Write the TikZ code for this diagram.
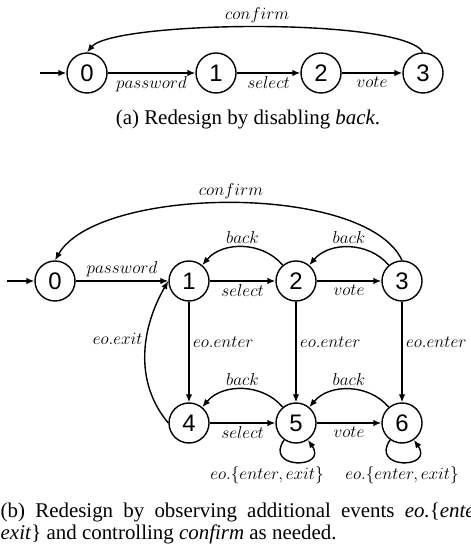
\documentclass[tikz,border=0pt]{standalone}
\usepackage{fontspec}
\setmainfont{Liberation Serif}
\newfontfamily\statefont{Liberation Sans}
\usetikzlibrary{arrows.meta}

\begin{document}
\begin{tikzpicture}[->, >={Latex[length=8bp,width=6.5bp]}, x=1bp, y=1bp, line width=1.4bp,
    main node/.style={circle, draw, minimum size=40bp, inner sep=0pt, font=\statefont\fontsize{24}{24}\selectfont},
    caption node/.style={font=\fontsize{21}{22}\selectfont}]
  \tikzstyle{every node}=[font=\fontsize{17.28}{20}\selectfont]
  \useasboundingbox (0,0) rectangle (471,552);

  % (a)
  \node[main node] (a0) at (87,479) {0};
  \node[main node] (a1) [node distance=129bp, right of=a0] {1};
  \node[main node] (a2) [node distance=105bp, right of=a1] {2};
  \node[main node] (a3) [node distance=102bp, right of=a2] {3};
  \node[coordinate] (a0in) [node distance=47bp, left of=a0] {};

  \path (a0in) edge (a0)
    (a0) edge node [below] {$password$} (a1)
    (a1) edge node [below] {$select$} (a2)
    (a2) edge node [below] {$vote$} (a3)
    (a3.north) edge [out=120, in=50, distance=41bp] node [above] {$confirm$} (a0.north);

  \node[caption node] (capa) at (248,432) {(a) Redesign by disabling \textit{back}.};

  % (b)
  \node[main node] (b0) at (55,271) {0};
  \node[main node] (b1) [node distance=134bp, right of=b0] {1};
  \node[main node] (b2) [node distance=107bp, right of=b1] {2};
  \node[main node] (b3) [node distance=106bp, right of=b2] {3};
  \node[main node] (b4) [node distance=142bp, below of=b1] {4};
  \node[main node] (b5) [node distance=107bp, right of=b4] {5};
  \node[main node] (b6) [node distance=106bp, right of=b5] {6};
  \node[coordinate] (b0in) [node distance=48bp, left of=b0] {};

  \path (b0in) edge (b0)
    (b0) edge node [above] {$password$} (b1)
    (b1) edge node [below] {$select$} (b2)
    (b2) edge node [below] {$vote$} (b3)
    (b4) edge node [below] {$select$} (b5)
    (b5) edge node [below] {$vote$} (b6)
    (b2) edge [bend right=50] node [above] {$back$} (b1)
    (b3) edge [bend right=50] node [above] {$back$} (b2)
    (b5) edge [bend right=50] node [above] {$back$} (b4)
    (b6) edge [bend right=50] node [above] {$back$} (b5)
    (b1) edge node [right, pos=0.4] {$eo.enter$} (b4)
    (b2) edge node [right, pos=0.4] {$eo.enter$} (b5)
    (b3) edge node [right, pos=0.4] {$eo.enter$} (b6)
    (b4.west) edge [out=130, in=240, distance=54bp] node [left, pos=0.6] {$eo.exit$} (b1.west)
    (b5) edge [loop, out=-125, in=-55, distance=36bp] node [below, xshift=-29bp] {$eo.\{enter,exit\}$} (b5)
    (b6) edge [loop, out=-125, in=-55, distance=36bp] node [below] {$eo.\{enter,exit\}$} (b6)
    (b3.north) edge [out=115, in=60, distance=86bp] node [above] {$confirm$} (b0.north);

  \node[caption node, text width=485bp, align=justify, anchor=north west, inner sep=0pt] (capb) at (0,50)
    {(b) Redesign by observing additional events \textit{eo.}\{\textit{enter,} \textit{exit}\} and controlling \textit{confirm} as needed.};
\end{tikzpicture}
\end{document}
